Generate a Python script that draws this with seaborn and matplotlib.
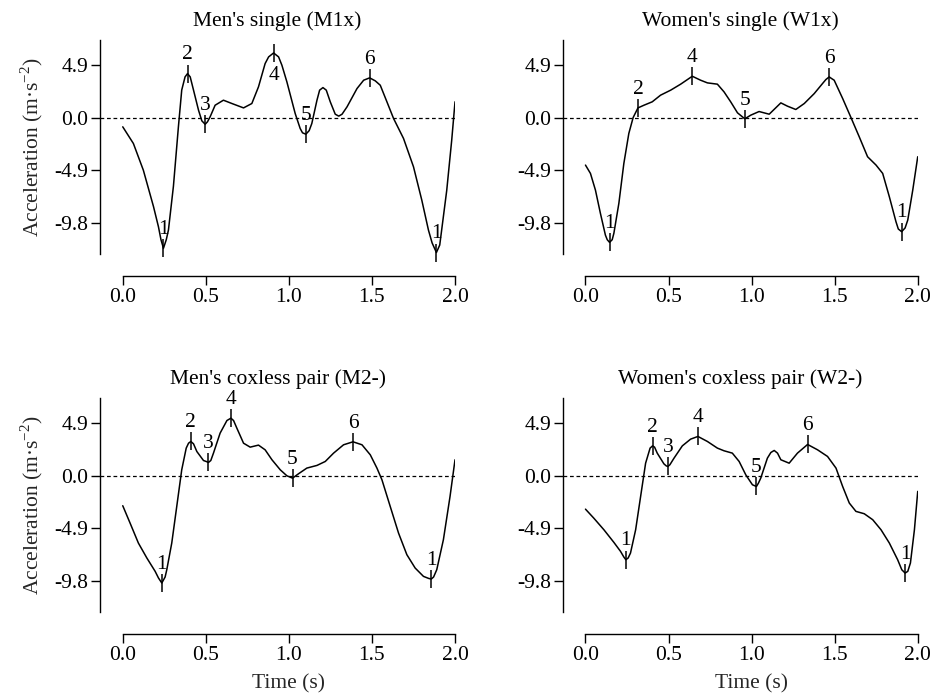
import matplotlib
matplotlib.use("Agg")
import matplotlib.pyplot as plt
import seaborn as sns

# acceleration traces: time (s), acceleration (m/s^2)
m1x_time = [0.0, 0.064, 0.124, 0.185, 0.215, 0.23, 0.245, 0.262, 0.275, 0.305, 0.335, 0.355,
            0.375, 0.39, 0.406, 0.426, 0.456, 0.476, 0.496, 0.51, 0.526, 0.556, 0.606, 0.657,
            0.727, 0.777, 0.817, 0.857, 0.878, 0.908, 0.938, 0.958, 0.988, 1.038, 1.068, 1.082,
            1.102, 1.122, 1.138, 1.169, 1.185, 1.205, 1.225, 1.249, 1.279, 1.3, 1.32, 1.35,
            1.41, 1.45, 1.486, 1.52, 1.55, 1.59, 1.63, 1.69, 1.75, 1.80, 1.84, 1.862,
            1.888, 1.908, 1.95, 1.98, 2.0]
m1x_acc = [-0.84, -2.4, -4.9, -8.3, -10.2, -11.4, -12.2, -11.4, -10.5, -6.4, -0.84, 2.6,
           3.83, 4.14, 3.83, 2.59, 0.72, -0.28, -0.6, -0.37, 0.1, 1.18, 1.65, 1.34,
           0.93, 1.34, 2.9, 5.08, 5.7, 6.07, 5.7, 4.92, 3.36, 0.4, -1.0, -1.4,
           -1.53, -1.2, -0.53, 1.65, 2.59, 2.83, 2.59, 1.5, 0.34, 0.16, 0.34, 1.03,
           2.74, 3.52, 3.74, 3.46, 3.05, 1.5, -0.06, -1.93, -4.58, -7.7, -10.5, -11.7,
           -12.6, -11.9, -6.8, -2.1, 1.5]
m1x_event_time = [0.245, 0.39, 0.496, 0.908, 1.102, 1.486, 1.888]
m1x_event_acc = [-12.2, 4.14, -0.6, 6.07, -1.53, 3.74, -12.6]
m1x_event_label = ["1", "2", "3", "4", "5", "6", "1"]

w1x_time = [0.0, 0.03, 0.06, 0.09, 0.12, 0.131, 0.145, 0.161, 0.171, 0.201, 0.231, 0.261,
            0.287, 0.316, 0.352, 0.402, 0.452, 0.513, 0.573, 0.643, 0.693, 0.734, 0.794, 0.834,
            0.874, 0.915, 0.959, 0.995, 1.045, 1.106, 1.176, 1.216, 1.266, 1.317, 1.377, 1.427,
            1.447, 1.467, 1.481, 1.497, 1.548, 1.598, 1.648, 1.698, 1.749, 1.789, 1.829, 1.869,
            1.883, 1.903, 1.924, 1.94, 1.97, 2.0]
w1x_acc = [-4.42, -5.2, -6.76, -8.94, -10.97, -11.4, -11.65, -11.4, -10.8, -8.0, -4.27, -1.46,
           0.03, 0.93, 1.18, 1.5, 2.12, 2.59, 3.15, 3.89, 3.52, 3.27, 3.15, 2.43,
           1.5, 0.47, -0.09, 0.25, 0.59, 0.34, 1.4, 1.09, 0.78, 1.34, 2.27, 3.21,
           3.58, 3.83, 3.68, 3.52, 1.81, 0.03, -1.78, -3.64, -4.42, -5.2, -7.38, -9.72,
           -10.4, -10.65, -10.3, -9.56, -6.76, -3.64]
w1x_event_time = [0.145, 0.316, 0.643, 0.959, 1.467, 1.903]
w1x_event_acc = [-11.65, 0.93, 3.89, -0.09, 3.83, -10.65]
w1x_event_label = ["1", "2", "4", "5", "6", "1"]

m2_time = [0.0, 0.044, 0.094, 0.145, 0.195, 0.215, 0.235, 0.255, 0.265, 0.295, 0.325, 0.355,
           0.382, 0.396, 0.41, 0.426, 0.446, 0.486, 0.502, 0.516, 0.53, 0.546, 0.586, 0.627,
           0.651, 0.667, 0.687, 0.727, 0.767, 0.817, 0.857, 0.898, 0.948, 0.988, 1.022, 1.058,
           1.108, 1.169, 1.219, 1.269, 1.329, 1.386, 1.44, 1.49, 1.53, 1.56, 1.61, 1.66,
           1.71, 1.76, 1.81, 1.841, 1.857, 1.871, 1.89, 1.93, 1.97, 2.0]
m2_acc = [-2.8, -4.42, -6.29, -7.69, -8.94, -9.56, -10.03, -9.47, -8.79, -6.29, -2.87, 0.56,
          2.59, 3.05, 3.21, 2.99, 2.27, 1.43, 1.34, 1.25, 1.43, 2.12, 3.99, 5.17,
          5.39, 5.17, 4.45, 3.05, 2.68, 2.87, 2.43, 1.5, 0.56, 0.0, -0.22, 0.19,
          0.72, 0.97, 1.34, 2.12, 2.9, 3.18, 2.9, 1.96, 0.72, -0.37, -2.87, -5.36,
          -7.38, -8.63, -9.41, -9.6, -9.66, -9.47, -8.79, -5.98, -1.93, 1.5]
m2_event_time = [0.235, 0.41, 0.516, 0.651, 1.022, 1.386, 1.857]
m2_event_acc = [-10.03, 3.21, 1.25, 5.39, -0.22, 3.18, -9.66]
m2_event_label = ["1", "2", "3", "4", "5", "6", "1"]

w2_time = [0.0, 0.05, 0.111, 0.171, 0.211, 0.231, 0.243, 0.257, 0.271, 0.302, 0.332, 0.362,
           0.389, 0.404, 0.416, 0.432, 0.472, 0.486, 0.496, 0.508, 0.533, 0.583, 0.633, 0.677,
           0.734, 0.794, 0.834, 0.884, 0.925, 0.965, 1.005, 1.029, 1.041, 1.055, 1.095, 1.116,
           1.136, 1.156, 1.176, 1.226, 1.276, 1.337, 1.397, 1.457, 1.508, 1.548, 1.588, 1.628,
           1.678, 1.729, 1.779, 1.829, 1.879, 1.904, 1.924, 1.94, 1.956, 1.98, 2.0]
w2_acc = [-3.12, -3.96, -5.05, -6.23, -7.07, -7.6, -7.85, -7.69, -7.23, -5.05, -1.93, 1.18,
          2.59, 2.8, 2.68, 2.12, 1.12, 0.93, 0.87, 1.03, 1.65, 2.8, 3.43, 3.68,
          3.21, 2.59, 2.34, 2.12, 1.34, 0.09, -0.84, -1.0, -0.69, -0.22, 1.65, 2.18,
          2.37, 2.12, 1.5, 1.18, 2.12, 2.93, 2.43, 1.81, 0.72, -1.0, -2.55, -3.33,
          -3.55, -4.11, -5.05, -6.29, -7.85, -8.79, -9.1, -8.94, -8.16, -5.05, -1.46]
w2_event_time = [0.243, 0.404, 0.496, 0.677, 1.029, 1.337, 1.924]
w2_event_acc = [-7.85, 2.8, 0.87, 3.68, -1.0, 2.93, -9.1]
w2_event_label = ["1", "2", "3", "4", "5", "6", "1"]

panel_titles = ["Men's single (M1x)", "Women's single (W1x)",
                "Men's coxless pair (M2-)", "Women's coxless pair (W2-)"]
x_ticks = [0.0, 0.5, 1.0, 1.5, 2.0]
y_ticks = [4.9, 0.0, -4.9, -9.8]


def draw_panel(ax, title, time, acc, ev_time, ev_acc, ev_label, below=()):
    ax.axhline(0, color="black", lw=0.9, ls=(0, (3, 2.2)), zorder=1)
    sns.lineplot(x=time, y=acc, ax=ax, color="black", lw=1.1, sort=False, estimator=None,
                 solid_joinstyle="round")
    sns.scatterplot(x=ev_time, y=ev_acc, ax=ax, marker="|", s=170, color="black",
                    linewidth=1.1, zorder=3)
    for i, (t, a, lab) in enumerate(zip(ev_time, ev_acc, ev_label)):
        dy = -16 if i in below else 13.5
        ax.annotate(lab, (t, a), xytext=(0, dy), textcoords="offset points",
                    ha="center", va="center", fontsize=15.5)
    ax.set_xlim(-0.137, 2.0)
    ax.set_ylim(-14.8, 7.28)
    ax.set_xticks(x_ticks)
    ax.set_yticks(y_ticks)
    ax.set_xticklabels([f"{v:.1f}" for v in x_ticks])
    ax.set_yticklabels([f"{v:.1f}" for v in y_ticks])
    for side in ["top", "right"]:
        ax.spines[side].set_visible(False)
    ax.spines["bottom"].set_bounds(0, 2)
    ax.spines["left"].set_bounds(-12.75, 7.28)
    ax.tick_params(direction="out", length=6.5, width=1, pad=2, labelsize=15.5)
    ax.set_title(title, fontsize=15.5, pad=10)
    ax.set_xlabel("")
    ax.set_ylabel("")


sns.set_theme(style="ticks")
plt.rcParams["font.family"] = ["Liberation Serif", "DejaVu Serif"]
plt.rcParams["mathtext.fontset"] = "custom"
plt.rcParams["mathtext.rm"] = "Liberation Serif"
plt.rcParams["axes.unicode_minus"] = False
plt.rcParams["axes.linewidth"] = 1.0
plt.rcParams["axes.edgecolor"] = "black"
plt.rcParams["text.color"] = "black"
plt.rcParams["xtick.color"] = "black"
plt.rcParams["ytick.color"] = "black"

fig, axes = plt.subplots(2, 2, figsize=(9.38, 6.96), dpi=100)
fig.subplots_adjust(left=0.1066, right=0.9784, bottom=0.0891, top=0.9425,
                    wspace=0.3033, hspace=0.5167)

draw_panel(axes[0, 0], panel_titles[0], m1x_time, m1x_acc,
           m1x_event_time, m1x_event_acc, m1x_event_label, below=(3,))
draw_panel(axes[0, 1], panel_titles[1], w1x_time, w1x_acc,
           w1x_event_time, w1x_event_acc, w1x_event_label)
draw_panel(axes[1, 0], panel_titles[2], m2_time, m2_acc,
           m2_event_time, m2_event_acc, m2_event_label)
draw_panel(axes[1, 1], panel_titles[3], w2_time, w2_acc,
           w2_event_time, w2_event_acc, w2_event_label)

for ax in axes[:, 0]:
    ax.set_ylabel("Acceleration (m·s$^{\\mathrm{-2}}$)", fontsize=15.5)
    ax.yaxis.set_label_coords(-0.155, 0.547)
for ax in axes[1, :]:
    ax.set_xlabel("Time (s)", fontsize=15.5)
    ax.xaxis.set_label_coords(0.531, -0.17)

fig.savefig("out.png", dpi=100)
